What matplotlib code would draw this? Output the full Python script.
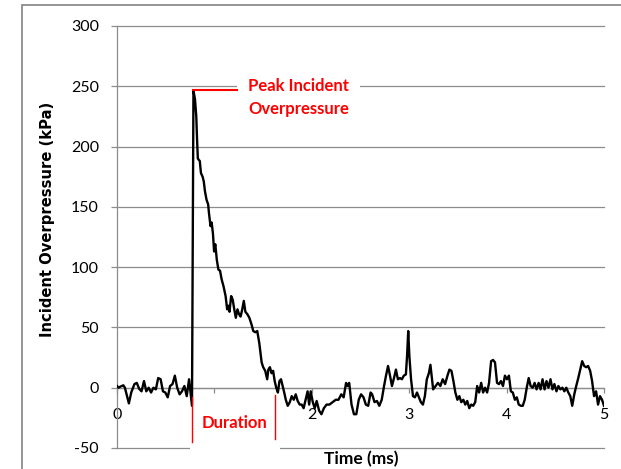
import matplotlib
matplotlib.use("Agg")
import matplotlib.pyplot as plt
from matplotlib.patches import Rectangle

plt.rcParams["axes.unicode_minus"] = False

# blast trace, time in ms, overpressure in kPa
time_ms = [0.000, 0.016, 0.037, 0.065, 0.081, 0.098, 0.122, 0.146, 0.179, 0.203,
           0.228, 0.252, 0.277, 0.301, 0.325, 0.350, 0.374, 0.399, 0.423, 0.448,
           0.472, 0.496, 0.521, 0.545, 0.570, 0.594, 0.618, 0.643, 0.667, 0.692,
           0.716, 0.740, 0.757, 0.770, 0.785,
           0.801, 0.814, 0.822, 0.830, 0.850, 0.862, 0.879, 0.891, 0.903, 0.919,
           0.936, 0.944, 0.960, 0.972, 0.985, 0.997, 1.009, 1.025, 1.041, 1.058,
           1.074, 1.094, 1.115, 1.131, 1.143, 1.155, 1.172, 1.188, 1.204, 1.220,
           1.237, 1.253, 1.269, 1.286, 1.302, 1.318, 1.338, 1.359, 1.383, 1.399,
           1.420, 1.440, 1.461, 1.473, 1.485, 1.501, 1.522, 1.542, 1.554, 1.570,
           1.587, 1.603, 1.619, 1.635, 1.652, 1.668, 1.684, 1.701, 1.717, 1.733,
           1.753, 1.774, 1.794, 1.815, 1.835, 1.855, 1.876, 1.896, 1.916, 1.937,
           1.957, 1.973, 1.989, 2.010, 2.030, 2.050, 2.075, 2.099, 2.124, 2.152,
           2.181, 2.213, 2.246, 2.274, 2.303, 2.327, 2.352, 2.368, 2.384, 2.408,
           2.433, 2.457, 2.482, 2.506, 2.531, 2.555, 2.579, 2.604, 2.620, 2.644,
           2.669, 2.693, 2.718, 2.742, 2.762, 2.783, 2.803, 2.823, 2.844, 2.864,
           2.884, 2.905, 2.925, 2.945, 2.966, 2.978, 2.990, 3.002, 3.019, 3.039,
           3.059, 3.080, 3.100, 3.120, 3.141, 3.161, 3.181, 3.202, 3.218, 3.230,
           3.246, 3.271, 3.295, 3.320, 3.344, 3.369, 3.393, 3.413, 3.434, 3.454,
           3.474, 3.495, 3.515, 3.535, 3.556, 3.576, 3.596, 3.617, 3.637, 3.657,
           3.678, 3.698, 3.718, 3.739, 3.759, 3.779, 3.800, 3.820, 3.841, 3.861,
           3.881, 3.902, 3.922, 3.942, 3.963, 3.983, 4.003, 4.024, 4.044, 4.064,
           4.085, 4.105, 4.125, 4.146, 4.166, 4.186, 4.207, 4.227, 4.247, 4.268,
           4.288, 4.308, 4.329, 4.349, 4.369, 4.390, 4.410, 4.430, 4.451, 4.471,
           4.491, 4.512, 4.532, 4.552, 4.573, 4.593, 4.613, 4.634, 4.654, 4.674,
           4.695, 4.715, 4.736, 4.756, 4.776, 4.797, 4.817, 4.837, 4.858, 4.878,
           4.898, 4.919, 4.939, 4.959, 4.980, 5.000]
pressure_kpa = [1.4, 0, 1, 2, 0, -5.5, -13, -4, 3, 4,
                -1, -3, 5.5, -3, 0, -4, 0, -1.4, 8, 7,
                -3, -4, -8, 1.4, 3, 10, 0, -5.5, -3, 1.4,
                -7, 7, -5.5, -15, 246.5,
                239, 225, 206, 190, 188, 178, 175, 171, 163, 156,
                152, 145, 134, 137, 128, 113, 119, 106, 98, 97,
                90, 84, 76, 65, 68, 63, 76, 73, 65, 58,
                65, 61, 59, 65, 72, 63, 61, 58, 52, 47,
                46, 47, 37, 29, 21, 17, 14, 7, 15, 17,
                12, 14, 5.5, 0, -4, 5.5, 7, 1.4, -4, -10,
                -15, -12, -7, -10, -5.5, -11, -14, -14, -17, -10,
                -3, -14, -3, -12, -17, -11, -19, -22, -17, -14,
                -14, -12, -10, -10, -5.5, -8, 4, 1.4, 4, -14,
                -22, -22, -10, -5.5, -8, -14, -15, -4, -5.5, -12,
                -11, -15, -10, 1.4, 10, 18, 10, 1.4, 8, 15,
                7, 8, 7, 10, 11, 26, 47, 26, 7, -7,
                -8, -4, -8, -12, -14, -7, 7, 12, 19, 10,
                -1.4, 1.4, 4, 1.4, 7, 3, 10, 15, 14, 5.5,
                -4, -10, -7, -12, -10, -14, -11, -17, -14, -15,
                -12, 1.4, -4, 4, -4, 0, -4, 4, 22, 23,
                21, 4, 3, 5.5, 1.4, 10, 7, 10, -3, -4,
                -10, -8, -14, -15, -15, -10, 0, 8, 1.4, 0,
                4, -1.4, 4, -1.4, 7, -1.4, 5.5, 0, 7, -1.4,
                3, -3, 1.4, -1.4, 0, -3, 0, -4, -7, -15,
                -5.5, 1.4, 8, 15, 22, 18, 17, 18, 14, 5.5,
                -7, -3, -14, -7, -10, -15]

x_ticks = [0, 1, 2, 3, 4, 5]
y_ticks = [-50, 0, 50, 100, 150, 200, 250, 300]

grey = "#8c8c8c"
red = "#ff0000"

fig = plt.figure(figsize=(6.21, 4.69), dpi=100)
ax = fig.add_axes([0.1884, 0.0448, 0.7842, 0.8998])

# outer chart frame
fig.patches.append(Rectangle((22 / 621, -0.2), 1.2, 1.2 - 7 / 469 + 0.005,
                             transform=fig.transFigure, facecolor="none",
                             edgecolor=grey, lw=1.3))

ax.plot(time_ms, pressure_kpa, color="black", lw=1.7, zorder=3)

ax.set_xlim(0, 5)
ax.set_ylim(-50, 300)
ax.set_xticks(x_ticks)
ax.set_yticks(y_ticks)
ax.set_axisbelow(True)
ax.grid(axis="y", color=grey, lw=0.9)
for gl in ax.yaxis.get_gridlines():
    gl.set_clip_on(False)

for s in ["top", "right"]:
    ax.spines[s].set_visible(False)
ax.spines["bottom"].set_position(("data", 0))
ax.spines["bottom"].set_color(grey)
ax.spines["left"].set_color(grey)
ax.spines["left"].set_linewidth(0.9)
ax.spines["bottom"].set_linewidth(0.9)

ax.tick_params(axis="y", length=4.5, color=grey, width=0.9, pad=8.5,
               labelsize=11.5, labelfontfamily="Lato")
ax.tick_params(axis="x", length=3.6, color=grey, width=0.9, pad=11,
               labelsize=11.5, labelfontfamily="Lato")

fig.text(47.5 / 621, 1 - 219 / 469, "Incident Overpressure (kPa)", rotation=90,
         ha="center", va="center", fontsize=10.6, fontweight="bold",
         family="DejaVu Sans")
fig.text(361 / 621, 1 - 459 / 469, "Time (ms)", ha="center", va="center",
         fontsize=12.5, fontweight="bold", family="Lato")

# peak annotation, boxed in white over the gridline
peak = max(pressure_kpa)
peak_t = time_ms[pressure_kpa.index(peak)]
ax.add_patch(Rectangle((1.232, 222), 1.263, 40, facecolor="white",
                       edgecolor="none", zorder=1))
ax.plot([peak_t, 1.232], [peak, peak], color=red, lw=1.5, zorder=4)
ax.text(1.345, 240.7, "Peak Incident\nOverpressure", color=red, fontsize=12,
        fontweight="bold", family="Lato", ha="left", va="center",
        linespacing=1.55, zorder=4)

# positive phase duration markers; the white box hides the "1" label
ax.add_patch(Rectangle((0.75, -56), 0.92, 50, facecolor="white",
                       edgecolor="none", zorder=1, clip_on=False))
ax.get_xticklabels()[1].set_visible(False)
ax.plot([0.775, 0.775], [-7.5, -45], color=red, lw=1.0, zorder=4, clip_on=False)
ax.plot([1.622, 1.622], [-6, -42.5], color=red, lw=1.0, zorder=4, clip_on=False)
ax.text(1.21, -29, "Duration", color=red, fontsize=12, fontweight="bold",
        family="Lato", ha="center", va="center", zorder=4)

fig.savefig("out.png", dpi=100)
